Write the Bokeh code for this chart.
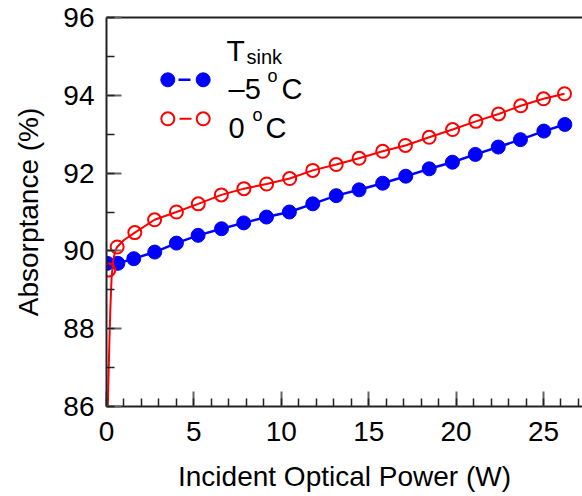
from bokeh.plotting import figure
from bokeh.models import Range1d, Label, FixedTicker, LinearAxis
from bokeh.embed import file_html
from bokeh.resources import INLINE

# ---- data ----
power_m5 = [0.04, 0.65, 1.56, 2.76, 4.0, 5.24, 6.58, 7.85, 9.15, 10.46, 11.8,
            13.14, 14.45, 15.8, 17.12, 18.46, 19.79, 21.1, 22.41, 23.68, 25.02, 26.22]
absorp_m5 = [89.68, 89.68, 89.8, 89.97, 90.2, 90.4, 90.57, 90.72, 90.87, 91.0, 91.21,
             91.42, 91.57, 91.74, 91.92, 92.11, 92.28, 92.48, 92.67, 92.86, 93.08, 93.25]

power_0 = [0.13, 0.61, 1.62, 2.75, 4.0, 5.25, 6.57, 7.86, 9.16, 10.48, 11.8,
           13.14, 14.45, 15.8, 17.1, 18.46, 19.8, 21.13, 22.43, 23.7, 25.0, 26.2]
absorp_0 = [89.51, 90.1, 90.47, 90.8, 91.0, 91.21, 91.44, 91.6, 91.72, 91.86, 92.07,
            92.22, 92.38, 92.56, 92.71, 92.92, 93.12, 93.33, 93.52, 93.73, 93.91, 94.04]

# smooth fitted curve for 0 oC
fit0_power = [0.075, 0.15, 0.22, 0.29, 0.38, 0.5, 0.61, 1.0, 1.62, 2.75, 4.0, 5.25,
              6.57, 7.86, 9.16, 10.48, 11.8, 13.14, 14.45, 15.8, 17.1, 18.46, 19.8,
              21.13, 22.43, 23.7, 25.0, 26.2]
fit0_absorp = [86.0, 87.4, 88.5, 89.3, 89.75, 90.0, 90.1, 90.28, 90.47, 90.8, 91.0, 91.21,
               91.44, 91.6, 91.72, 91.86, 92.07, 92.22, 92.38, 92.56, 92.71, 92.92, 93.12,
               93.33, 93.52, 93.73, 93.91, 94.04]

x_ticks = [0, 5, 10, 15, 20, 25]
y_ticks = [86, 88, 90, 92, 94, 96]

legend_title = "T"
legend_title_sub = "sink"
label_m5 = "\u20135"
label_0 = "0"

FONT = "Liberation Sans"
BLUE = "#0000ff"
RED = "#ff0000"

W, H = 582, 496
BL, BT, BB = 106, 17, 90
X_MAX = 27.23
Y_MIN, Y_MAX = 86, 96

p = figure(width=W, height=H, output_backend="svg", toolbar_location=None,
           x_range=Range1d(0, X_MAX), y_range=Range1d(Y_MIN, Y_MAX),
           min_border_left=BL, min_border_right=0, min_border_top=BT, min_border_bottom=BB)
p.outline_line_color = None
p.grid.visible = False
p.background_fill_color = "white"
p.border_fill_color = "white"

p.xaxis.ticker = FixedTicker(ticks=x_ticks, minor_ticks=list(range(0, 28)))
p.yaxis.ticker = FixedTicker(ticks=y_ticks, minor_ticks=list(range(86, 97)))
for ax in (p.xaxis, p.yaxis):
    ax.axis_line_color = "#222222"
    ax.axis_line_width = 2
    ax.major_tick_in = 15
    ax.major_tick_out = 0
    ax.minor_tick_in = 8
    ax.minor_tick_out = 0
    ax.major_tick_line_color = "#666666"
    ax.major_tick_line_width = 2
    ax.minor_tick_line_color = "#222222"
    ax.minor_tick_line_width = 1.5
    ax.major_label_text_font = FONT
    ax.major_label_text_font_size = "28px"
    ax.major_label_text_color = "black"
    ax.axis_label_text_font = FONT
    ax.axis_label_text_font_size = "28px"
    ax.axis_label_text_font_style = "normal"
    ax.axis_label_text_color = "black"
p.xaxis.axis_label = "Incident Optical Power (W)"
p.yaxis.axis_label = "Absorptance (%)"
p.xaxis.major_label_standoff = 15
p.xaxis.axis_label_standoff = 17
p.yaxis.major_label_standoff = 12
p.yaxis.axis_label_standoff = 16

# plain top frame line (no ticks, no labels)
top_axis = LinearAxis(ticker=FixedTicker(ticks=[], minor_ticks=[]),
                      axis_line_color="#222222", axis_line_width=2,
                      major_tick_line_color=None, minor_tick_line_color=None,
                      major_tick_in=0, major_tick_out=0, minor_tick_in=0, minor_tick_out=0,
                      major_label_standoff=0)
p.add_layout(top_axis, "above")

# data
p.line(power_m5, absorp_m5, line_color=BLUE, line_width=2.5)
p.scatter(power_m5, absorp_m5, size=14, fill_color=BLUE, line_color=BLUE)
p.line(fit0_power, fit0_absorp, line_color=RED, line_width=2)
p.scatter(power_0, absorp_0, size=13, fill_alpha=0, line_color=RED, line_width=2)

# ---- hand-made legend (page pixel positions converted to data units) ----
px_per_x = (W - BL) / X_MAX
px_per_y = (H - BT - BB) / (Y_MAX - Y_MIN)
FL, FT = BL, BT


def dx(px):
    return (px - FL) / px_per_x


def dy(py):
    return Y_MAX - (py - FT) / px_per_y


p.line([dx(178), dx(190)], [dy(79.3)] * 2, line_color=BLUE, line_width=2.5)
p.scatter([dx(167.3), dx(202.7)], [dy(79.3)] * 2, size=14, fill_color=BLUE, line_color=BLUE)
p.line([dx(179), dx(191)], [dy(118.3)] * 2, line_color=RED, line_width=2)
p.scatter([dx(167.3), dx(202.7)], [dy(118.3)] * 2, size=13, fill_alpha=0,
          line_color=RED, line_width=2)


def lab(px, py, text, size):
    p.add_layout(Label(x=dx(px), y=dy(py), text=text, text_font=FONT,
                       text_font_size=size, text_baseline="alphabetic",
                       text_align="left", text_color="black"))


lab(226, 50, legend_title, "30px")
lab(246, 56, legend_title_sub, "20px")
lab(228, 88, label_m5, "29px")
lab(267, 75, "o", "18px")
lab(281, 88, "C", "29px")
lab(228, 127, label_0, "29px")
lab(252, 114, "o", "18px")
lab(265, 127, "C", "29px")

open("out.html", "w").write(file_html(p, INLINE))
